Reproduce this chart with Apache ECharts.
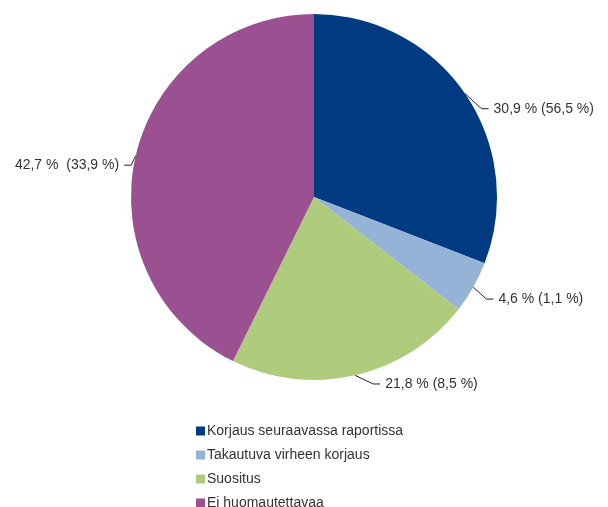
<!DOCTYPE html>
<html>
<head>
<meta charset="utf-8">
<script src="https://cdn.jsdelivr.net/npm/echarts@6/dist/echarts.min.js"></script>
<style>
html,body{margin:0;padding:0;background:#fff;}
#chart{width:608px;height:507px;}
</style>
</head>
<body>
<div id="chart"></div>
<script>
const categories = ['Korjaus seuraavassa raportissa', 'Takautuva virheen korjaus', 'Suositus', 'Ei huomautettavaa'];
const values = [30.9, 4.6, 21.8, 42.7];
const secondaryValues = [56.5, 1.1, 8.5, 33.9];
const separators = [' ', ' ', ' ', '  '];
const colors = ['#003A80', '#95B3D7', '#AFCB7C', '#9B5092'];

function fmt(v) { return v.toFixed(1).replace('.', ','); }

// label nudges to mimic the reference's label placement
const labelNudge = [[4, 23], [0, 5], [14, -5], [10, 13]];

const chart = echarts.init(document.getElementById('chart'));
chart.setOption({
  animation: false,
  color: colors,
  legend: {
    orient: 'vertical',
    left: 196,
    top: 424,
    height: 150,
    padding: 0,
    icon: 'rect',
    itemWidth: 9,
    itemHeight: 9,
    itemGap: 10,
    data: categories,
    textStyle: { fontFamily: 'Liberation Sans, Arial', fontSize: 14, color: '#333', lineHeight: 13, padding: [0,0,0,-3] }
  },
  series: [{
    type: 'pie',
    center: [314, 197],
    radius: 183,
    startAngle: 90,
    clockwise: true,
    data: categories.map((c, i) => ({ name: c, value: values[i] })),
    label: {
      show: true,
      overflow: 'none',
      fontFamily: 'Liberation Sans, Arial',
      fontSize: 14,
      color: '#333',
      formatter: p => fmt(values[p.dataIndex]) + ' %' + separators[p.dataIndex] + '(' + fmt(secondaryValues[p.dataIndex]) + ' %)'
    },
    labelLine: {
      show: true,
      length: 14,
      length2: 8,
      lineStyle: { color: '#222', width: 1 }
    },
    labelLayout: p => {
      const n = labelNudge[p.dataIndex];
      const pts = p.labelLinePoints;
      if (!pts) return { dx: n[0], dy: n[1] };
      const right = pts[2][0] > pts[0][0];
      const end = [pts[2][0] + n[0], pts[2][1] + n[1]];
      const mid = [end[0] + (right ? -7 : 7), end[1]];
      return { dx: n[0], dy: n[1], labelLinePoints: [pts[0], mid, end] };
    },
    itemStyle: { borderWidth: 0 },
    emphasis: { disabled: true }
  }]
});
</script>
</body>
</html>
